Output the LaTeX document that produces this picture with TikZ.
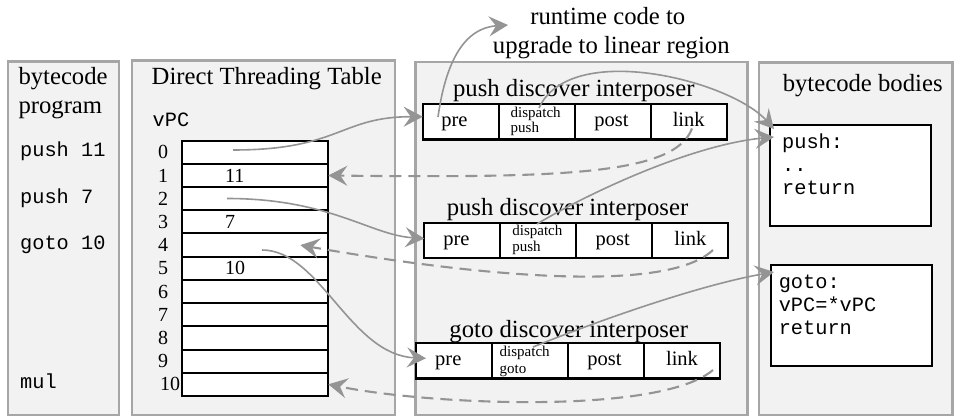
\documentclass[tikz,border=0pt]{standalone}
\usepackage{fontspec}
\setmainfont{Liberation Serif}
\setmonofont{Liberation Mono}
\usetikzlibrary{arrows.meta}
\definecolor{panelfill}{HTML}{F2F2F2}
\definecolor{panelline}{HTML}{A6A6A6}
\definecolor{arrowgray}{HTML}{949494}
\tikzset{
  panel/.style={draw=panelline, fill=panelfill, line width=2.2pt},
  rowbox/.style={draw=black, fill=white, line width=2pt, minimum width=146.6pt, minimum height=23.2pt, inner sep=0pt, outer sep=0pt},
  cellbox/.style={draw=black, fill=white, line width=2.2pt, minimum width=76pt, minimum height=35.5pt, inner sep=0pt, outer sep=0pt},
  bodybox/.style={draw=black, fill=white, line width=2.2pt, minimum width=160.7pt, minimum height=100.7pt, inner sep=0pt, outer sep=0pt},
  ttl/.style={font=\fontsize{24.7}{29}\selectfont, inner sep=0pt, anchor=base},
  celltxt/.style={font=\fontsize{20.5}{22}\selectfont, inner sep=0pt, anchor=base},
  smalltxt/.style={font=\fontsize{15}{16}\selectfont, inner sep=0pt, anchor=base west},
  numtxt/.style={font=\fontsize{20}{22}\selectfont, inner sep=0pt, anchor=west},
  monotxt/.style={font=\fontsize{20.3}{22}\ttfamily, inner sep=0pt, anchor=base west},
  conn/.style={draw=arrowgray, line width=1.6pt, -{Stealth[length=19pt,width=20pt,inset=7pt]}},
  dconn/.style={conn, line width=2.1pt, dash pattern=on 12pt off 7pt},
}
\begin{document}
\begin{tikzpicture}[x=1pt,y=-1pt]
\useasboundingbox (0,0) rectangle (954,417);
% panels
\draw[panel] (8,61.5) rectangle (119,415);
\draw[panel] (132,60.5) rectangle (395,415);
\draw[panel] (415.5,62) rectangle (747.5,415);
\draw[panel] (759,62.5) rectangle (952.5,415);
% titles
\node[ttl, anchor=base west] (t1a) at (18.3,85) {bytecode};
\node[ttl, anchor=base west] (t1b) at (18.3,114) {program};
\node[ttl] (t2) at (266.7,85) {Direct Threading Table};
\node[ttl] (rt1) at (607.8,25) {runtime code to};
\node[ttl] (rt2) at (611.3,53.3) {upgrade to linear region};
\node[ttl] (ti1) at (573.8,96.7) {push discover interposer};
\node[ttl] (ti2) at (567.5,215) {push discover interposer};
\node[ttl] (ti3) at (568.8,337.3) {goto discover interposer};
\node[ttl] (t4) at (862.7,91.7) {bytecode bodies};
% bytecode program
\node[monotxt] (p0) at (20,156.8) {push 11};
\node[monotxt] (p2) at (20,203.2) {push 7};
\node[monotxt] (p4) at (20,249.6) {goto 10};
\node[monotxt] (p10) at (20,388.8) {mul};
% table
\node[monotxt] (vpc) at (152.5,126.7) {vPC};
\foreach \i in {0,...,10} {
  \node[rowbox] (r\i) at (255,{140.7+23.2*(\i+0.5)}) {};
}
\foreach \i in {0,...,9} {
  \node[numtxt] (l\i) at (158,{140.7+23.2*(\i+0.5)}) {\i};
}
\node[numtxt] (l10) at (160,384.3) {10};
\node[numtxt] (v1) at (225,175.5) {11};
\node[numtxt] (v3) at (225,221.9) {7};
\node[numtxt] (v5) at (225,268.3) {10};
% interposer 1
\node[cellbox] (ap) at (460.7,121.7) {};
\node[cellbox] (ad) at (536.7,121.7) {};
\node[cellbox] (ao) at (612.7,121.7) {};
\node[cellbox] (al) at (688.7,121.7) {};
\node[celltxt] (apt) at (454.5,126.7) {pre};
\node[smalltxt] (adt1) at (510.5,117.3) {dispatch};
\node[smalltxt] (adt2) at (510.5,132.3) {push};
\node[celltxt] (aot) at (611.5,126.7) {post};
\node[celltxt] (alt) at (688.7,126.7) {link};
% interposer 2
\node[cellbox] (bp) at (462.3,240.5) {};
\node[cellbox] (bd) at (538.3,240.5) {};
\node[cellbox] (bo) at (614.3,240.5) {};
\node[cellbox] (bl) at (690.3,240.5) {};
\node[celltxt] (bpt) at (456.5,245.3) {pre};
\node[smalltxt] (bdt1) at (512.2,236) {dispatch};
\node[smalltxt] (bdt2) at (512.2,251.5) {push};
\node[celltxt] (bot) at (612.8,245.3) {post};
\node[celltxt] (blt) at (690.3,245.3) {link};
% interposer 3
\node[cellbox] (cp) at (454,360.8) {};
\node[cellbox] (cd) at (530,360.8) {};
\node[cellbox] (co) at (606,360.8) {};
\node[cellbox] (cl) at (682,360.8) {};
\node[celltxt] (cpt) at (448.3,365.7) {pre};
\node[smalltxt] (cdt1) at (499.5,356) {dispatch};
\node[smalltxt] (cdt2) at (499.5,373) {goto};
\node[celltxt] (cot) at (604.5,365.7) {post};
\node[celltxt] (clt) at (682,365.7) {link};
% bytecode bodies
\node[bodybox] (bb1) at (850.35,175.35) {};
\node[bodybox] (bb2) at (851.35,315.35) {};
\node[monotxt] (bb1a) at (782,149) {push:};
\node[monotxt] (bb1b) at (782,172) {..};
\node[monotxt] (bb1c) at (782,195) {return};
\node[monotxt] (bb2a) at (778.6,288.3) {goto:};
\node[monotxt] (bb2b) at (778.6,311.8) {vPC=*vPC};
\node[monotxt] (bb2c) at (778.6,334.5) {return};
% connector endpoints
\coordinate (s0) at (233,150);
\coordinate (s1) at (438,117);
\coordinate (rtin) at (508,25);
\coordinate (s2) at (539,108);
\coordinate (s3) at (692,128.5);
\coordinate (s4) at (227,198.5);
\coordinate (s5) at (537,224);
\coordinate (s6) at (713,250);
\coordinate (s7) at (262,250);
\coordinate (s8) at (533,347);
\coordinate (s9) at (713,370);
% connectors
\draw[conn] (s0) .. controls (340,150) and (340,116.7) .. ([yshift=5pt]ap.west);
\draw[conn] (s1) .. controls (446,60) and (465,28) .. (rtin);
\draw[conn] (s2) .. controls (570,40) and (730,80) .. ([xshift=4pt,yshift=-4pt]bb1.north west);
\draw[dconn] (s3) .. controls (675,175) and (560,178) .. (r1.east);
\draw[conn] (s4) .. controls (330,198.5) and (370,235) .. ([yshift=2pt]bp.west);
\draw[conn] (s5) .. controls (585,195) and (690,145) .. ([xshift=4pt,yshift=-12pt]bb1.north west);
\draw[dconn] (s6) .. controls (660,300) and (430,268) .. ([xshift=-28pt]r4.east);
\draw[conn] (s7) .. controls (320,250) and (350,355) .. ([xshift=10pt,yshift=2.5pt]cp.west);
\draw[conn] (s8) .. controls (600,320) and (700,285) .. ([xshift=3pt,yshift=-7pt]bb2.north west);
\draw[dconn] (s9) .. controls (660,415) and (430,405) .. (r10.east);
\end{tikzpicture}
\end{document}
